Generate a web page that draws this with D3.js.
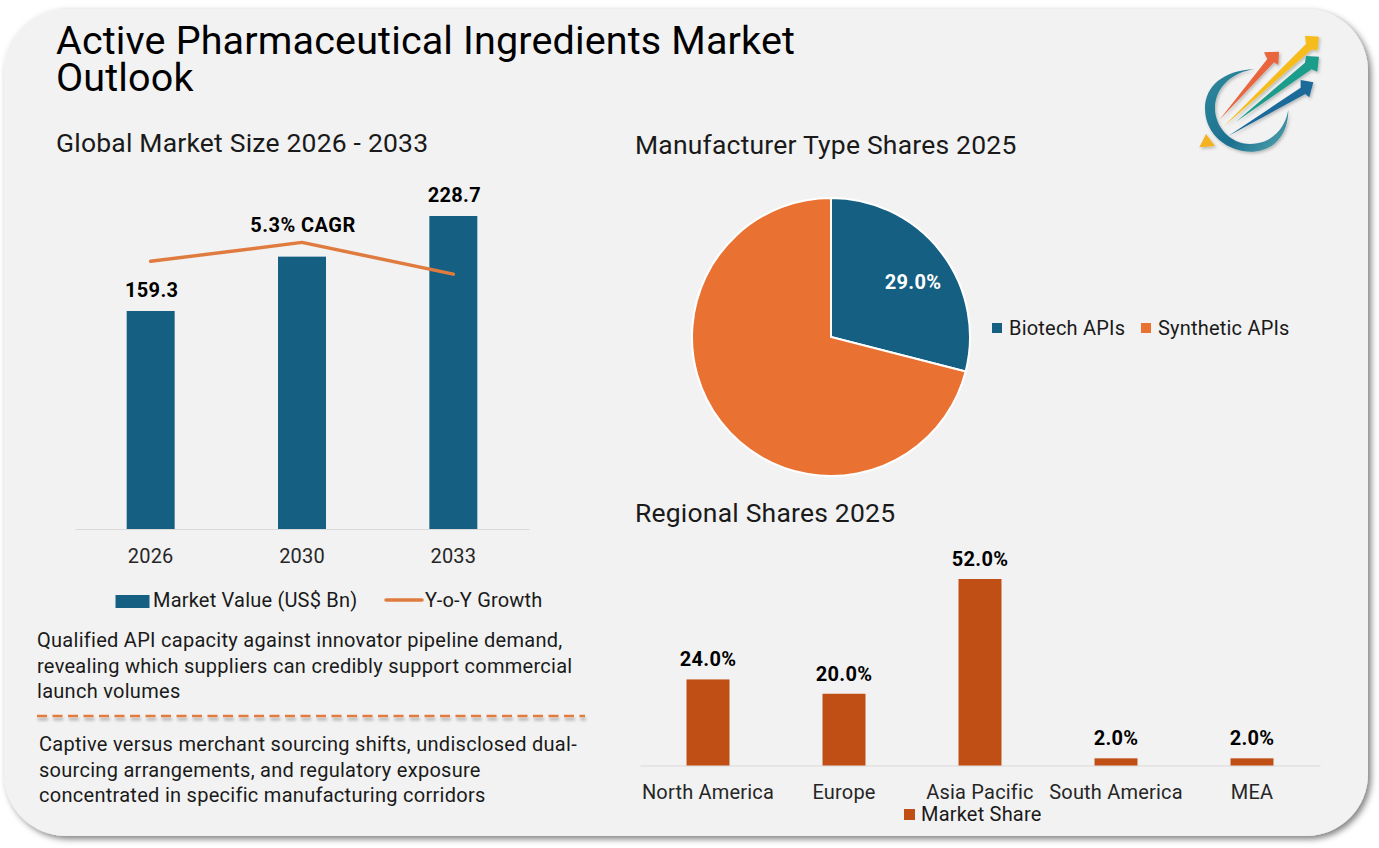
<!DOCTYPE html>
<html>
<head>
<meta charset="utf-8">
<script src="https://cdn.jsdelivr.net/npm/d3@7"></script>
<style>
  html, body { margin: 0; padding: 0; background: #fff; }
  svg { display: block; }
  text { font-family: Roboto, "Noto Sans", sans-serif; fill: #1a1a1a; letter-spacing: 0.2px; }
  .bold { font-weight: 700; fill: #000; letter-spacing: 0.3px; }
  .axis path { stroke: #d9d9d9; }
  .axis line { display: none; }
  .axis text { font-size: 20px; fill: #262626; font-family: Roboto, sans-serif; }
</style>
</head>
<body>
<div id="chart"></div>
<script>
const titleLines = ["Active Pharmaceutical Ingredients Market", "Outlook"];

const years = ["2026", "2030", "2033"];
const marketValues = [159.3, 199, 228.7];
const marketLabels = ["159.3", "", "228.7"];
const growthValues = [5.65, 6.05, 5.38];
const cagrLabel = "5.3% CAGR";

const typeNames = ["Biotech APIs", "Synthetic APIs"];
const typeShares = [29, 71];

const regions = ["North America", "Europe", "Asia Pacific", "South America", "MEA"];
const regionShares = [24, 20, 52, 2, 2];

const noteTop = ["Qualified API capacity against innovator pipeline demand,",
  "revealing which suppliers can credibly support commercial",
  "launch volumes"];
const noteBottom = ["Captive versus merchant sourcing shifts, undisclosed dual-",
  "sourcing arrangements, and regulatory exposure",
  "concentrated in specific manufacturing corridors"];

const blue = "#156082", orange = "#e97132", rust = "#c04f15", lineOrange = "#e07b3f";

const svg = d3.select("#chart").append("svg")
  .attr("width", 1379)
  .attr("height", 848);

const defs = svg.append("defs");
const cardShadow = defs.append("filter").attr("id", "cardShadow")
  .attr("x", "-5%").attr("y", "-5%").attr("width", "110%").attr("height", "110%");
cardShadow.append("feDropShadow").attr("dx", 3).attr("dy", 3).attr("stdDeviation", 3)
  .attr("flood-color", "#000").attr("flood-opacity", 0.5);
const lineShadow = defs.append("filter").attr("id", "lineShadow")
  .attr("filterUnits", "userSpaceOnUse")
  .attr("x", 20).attr("y", 700).attr("width", 590).attr("height", 35);
lineShadow.append("feDropShadow").attr("dx", 1).attr("dy", 3).attr("stdDeviation", 1.5)
  .attr("flood-color", "#000").attr("flood-opacity", 0.3);
const logoShadow = defs.append("filter").attr("id", "logoShadow")
  .attr("x", "-10%").attr("y", "-10%").attr("width", "125%").attr("height", "125%");
logoShadow.append("feDropShadow").attr("dx", 4).attr("dy", 5).attr("stdDeviation", 4)
  .attr("flood-color", "#000").attr("flood-opacity", 0.25);
const ringGrad = defs.append("linearGradient").attr("id", "ringGrad")
  .attr("x1", 0).attr("y1", 0).attr("x2", 1).attr("y2", 1);
ringGrad.append("stop").attr("offset", "0%").attr("stop-color", "#2f8a9c");
ringGrad.append("stop").attr("offset", "60%").attr("stop-color", "#1c6f90");
ringGrad.append("stop").attr("offset", "100%").attr("stop-color", "#57a9b0");

// card
svg.append("rect")
  .attr("x", 4).attr("y", 9)
  .attr("width", 1364).attr("height", 827)
  .attr("rx", 62)
  .attr("fill", "#f2f2f2")
  .attr("filter", "url(#cardShadow)");

// title
svg.append("g").selectAll("text")
  .data(titleLines)
  .enter().append("text")
  .attr("x", 56)
  .attr("y", (d, i) => 54 + i * 37)
  .attr("font-size", 39.5)
  .style("fill", "#000")
  .style("letter-spacing", "0.15px")
  .text(d => d);

function heading(x, y, label) {
  svg.append("text")
    .attr("x", x).attr("y", y)
    .attr("font-size", 26.5)
    .text(label);
}
heading(56, 152, "Global Market Size 2026 - 2033");
heading(635, 154, "Manufacturer Type Shares 2025");
heading(635, 522, "Regional Shares 2025");

// market size bars
const xMarket = d3.scaleBand().domain(years).range([75, 529])
  .paddingInner(0.683).paddingOuter(0.3415);
const yMarket = d3.scaleLinear().domain([0, 228.7]).range([529, 216]);
const yGrowth = d3.scaleLinear().domain([0, 8]).range([529, 150]);

svg.append("g").attr("class", "axis")
  .attr("transform", "translate(0,529)")
  .call(d3.axisBottom(xMarket).tickSize(0).tickPadding(20));

svg.selectAll(".bar")
  .data(years)
  .enter().append("rect")
  .attr("class", "bar")
  .attr("fill", blue)
  .attr("x", d => xMarket(d))
  .attr("width", xMarket.bandwidth())
  .attr("y", (d, i) => yMarket(marketValues[i]))
  .attr("height", (d, i) => yMarket(0) - yMarket(marketValues[i]));

svg.selectAll(".barLabel")
  .data(years)
  .enter().append("text")
  .attr("class", "barLabel bold")
  .attr("text-anchor", "middle")
  .attr("font-size", 20)
  .attr("x", d => xMarket(d) + xMarket.bandwidth() / 2 + 1)
  .attr("y", (d, i) => yMarket(marketValues[i]) - 14)
  .text((d, i) => marketLabels[i]);

const growthLine = d3.line()
  .x((d, i) => xMarket(years[i]) + xMarket.bandwidth() / 2)
  .y(d => yGrowth(d));

svg.append("path")
  .attr("d", growthLine(growthValues))
  .attr("fill", "none")
  .attr("stroke", lineOrange)
  .attr("stroke-width", 3.5)
  .attr("stroke-linecap", "round")
  .attr("stroke-linejoin", "round");

svg.append("text")
  .attr("class", "bold")
  .attr("x", 303).attr("y", 232)
  .attr("text-anchor", "middle")
  .attr("font-size", 20)
  .style("letter-spacing", "0.45px")
  .text(cagrLabel);

// market legend
svg.append("rect").attr("x", 115.5).attr("y", 595).attr("width", 34).attr("height", 13).attr("fill", blue);
svg.append("text").attr("x", 153).attr("y", 607).attr("font-size", 20).text("Market Value (US$ Bn)");
svg.append("line").attr("x1", 386).attr("x2", 422).attr("y1", 600).attr("y2", 600)
  .attr("stroke", lineOrange).attr("stroke-width", 3.5).attr("stroke-linecap", "round");
svg.append("text").attr("x", 425).attr("y", 607).attr("font-size", 20).text("Y-o-Y Growth");

// notes
function note(lines, x, y) {
  svg.append("g").selectAll("text")
    .data(lines)
    .enter().append("text")
    .attr("x", x)
    .attr("y", (d, i) => y + i * 25.5)
    .attr("font-size", 20)
    .style("letter-spacing", "0.28px")
    .text(d => d);
}
note(noteTop, 37, 647);
note(noteBottom, 39, 751);

svg.append("line")
  .attr("x1", 37).attr("x2", 585).attr("y1", 716).attr("y2", 716)
  .attr("stroke", lineOrange)
  .attr("stroke-width", 2.5)
  .attr("stroke-dasharray", "10 5.5")
  .attr("filter", "url(#lineShadow)");

// pie
const pie = d3.pie().sort(null)(typeShares);
const arc = d3.arc().innerRadius(0).outerRadius(139);
const pieColors = d3.scaleOrdinal().domain(typeNames).range([blue, orange]);
const pieGroup = svg.append("g").attr("transform", "translate(831,337)");

pieGroup.selectAll("path")
  .data(pie)
  .enter().append("path")
  .attr("d", arc)
  .attr("fill", (d, i) => pieColors(typeNames[i]))
  .attr("stroke", "#fff")
  .attr("stroke-width", 2);

const labelArc = d3.arc().innerRadius(100).outerRadius(100);
pieGroup.append("text")
  .attr("class", "bold")
  .style("fill", "#fff")
  .attr("text-anchor", "middle")
  .attr("font-size", 20)
  .attr("x", labelArc.centroid(pie[0])[0] + 3)
  .attr("y", labelArc.centroid(pie[0])[1] + 13)
  .text(typeShares[0].toFixed(1) + "%");

const legendX = d3.scaleOrdinal().domain(typeNames).range([992, 1141]);
typeNames.forEach(name => {
  svg.append("rect").attr("x", legendX(name)).attr("y", 323)
    .attr("width", 10).attr("height", 10).attr("fill", pieColors(name));
  svg.append("text").attr("x", legendX(name) + 17).attr("y", 335)
    .attr("font-size", 20).text(name);
});

// regional bars
const xRegion = d3.scaleBand().domain(regions).range([640, 1320])
  .paddingInner(0.684).paddingOuter(0.342);
const yRegion = d3.scaleLinear().domain([0, 52]).range([765.5, 579]);

svg.append("g").attr("class", "axis")
  .attr("transform", "translate(0,765.5)")
  .call(d3.axisBottom(xRegion).tickSize(0).tickPadding(19));

svg.selectAll(".regionBar")
  .data(regions)
  .enter().append("rect")
  .attr("class", "regionBar")
  .attr("fill", rust)
  .attr("x", d => xRegion(d))
  .attr("width", xRegion.bandwidth())
  .attr("y", (d, i) => yRegion(regionShares[i]))
  .attr("height", (d, i) => yRegion(0) - yRegion(regionShares[i]));

svg.selectAll(".regionLabel")
  .data(regions)
  .enter().append("text")
  .attr("class", "regionLabel bold")
  .attr("text-anchor", "middle")
  .attr("font-size", 20)
  .attr("x", d => xRegion(d) + xRegion.bandwidth() / 2)
  .attr("y", (d, i) => yRegion(regionShares[i]) - 13)
  .text((d, i) => regionShares[i].toFixed(1) + "%");

svg.append("rect").attr("x", 904).attr("y", 809).attr("width", 11).attr("height", 11).attr("fill", rust);
svg.append("text").attr("x", 921).attr("y", 821).attr("font-size", 20).text("Market Share");

// logo
const logo = svg.append("g").attr("transform", "translate(1180,20) scale(0.3333)")
  .attr("filter", "url(#logoShadow)");
logo.append("path")
  .attr("d", "M225 148C130 150 75 200 75 265C75 350 150 398 220 395C285 392 325 340 325 270C315 330 270 372 210 372C150 372 105 320 105 265C105 200 160 155 225 148Z")
  .attr("fill", "url(#ringGrad)");
logo.append("path").attr("d", "M78 342L105 378L58 382Z").attr("fill", "#f4b223");
logo.append("path").attr("d", "M118 300L262 117L252 97L297 95L295 135L282 127Z").attr("fill", "#e8653c");
logo.append("path").attr("d", "M130 320L378 72L375 47L417 50L412 92L396 88Z").attr("fill", "#f6bc1c");
logo.append("path").attr("d", "M168 305L375 128L378 108L417 110L412 155L395 148Z").attr("fill", "#1f9c8a");
logo.append("path").attr("d", "M145 348L362 203L362 180L400 187L388 232L376 222Z").attr("fill", "#1a6a9a");
</script>
</body>
</html>
